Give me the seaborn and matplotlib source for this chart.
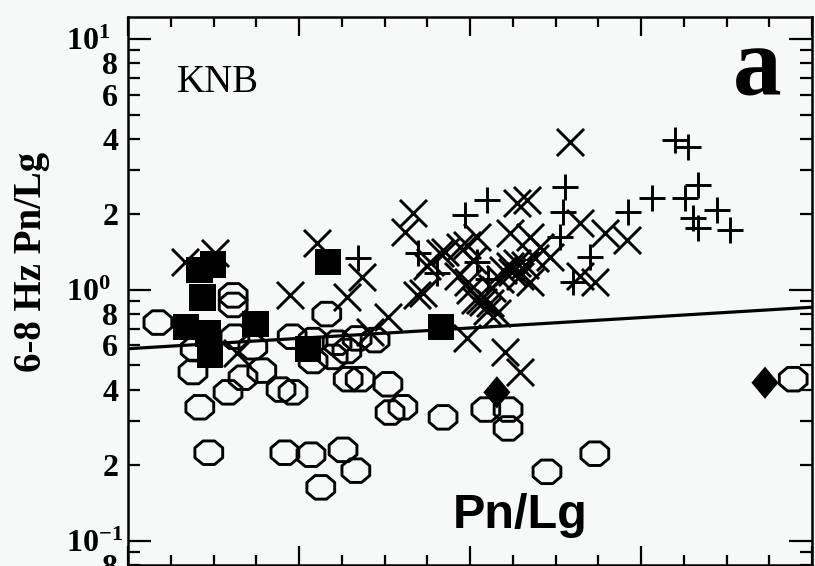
import numpy as np
import matplotlib
matplotlib.use("Agg")
import matplotlib.pyplot as plt
from matplotlib.path import Path
from matplotlib.ticker import LogLocator, FuncFormatter, MultipleLocator, NullFormatter
import seaborn as sns

# ---------------- data ----------------
oct_x = [0.70, 2.46, 2.46, 1.57, 1.52, 1.68, 1.89, 2.34, 2.69, 2.50, 2.92, 3.13, 3.58, 3.86,
         3.67, 4.28, 3.84, 4.33, 4.65, 4.33, 4.80, 5.12, 5.15, 5.43, 5.36, 5.78, 6.08, 6.13,
         6.43, 7.37, 5.03, 5.33, 4.51, 8.37, 8.89, 8.89, 9.80, 10.92, 15.56, 4.89]
oct_y = [0.74, 0.95, 0.87, 0.58, 0.47, 0.34, 0.224, 0.39, 0.446, 0.65, 0.59, 0.476, 0.40, 0.39,
         0.224, 0.22, 0.65, 0.63, 0.80, 0.52, 0.54, 0.57, 0.44, 0.44, 0.64, 0.63, 0.42, 0.324,
         0.34, 0.31, 0.23, 0.19, 0.163, 0.333, 0.333, 0.28, 0.188, 0.222, 0.44, 0.615]

sq_x = [1.68, 1.99, 1.75, 1.36, 1.87, 1.92, 2.99, 4.21, 4.68, 7.32]
sq_y = [1.20, 1.26, 0.93, 0.71, 0.67, 0.55, 0.73, 0.58, 1.29, 0.71]

cross_x = [1.33, 2.04, 4.42, 3.79, 2.55, 5.47, 5.12, 6.08, 6.76, 5.66,
           6.67, 6.48, 7.06, 7.42, 7.93, 8.16, 7.72, 7.95, 8.23, 8.40,
           7.93, 8.82, 9.17, 8.94, 9.10, 9.33, 10.34, 9.40, 10.57, 11.16,
           11.67, 7.30, 7.77, 8.07, 6.99, 6.90, 8.94, 9.17, 9.40, 8.00,
           8.30, 8.63, 10.57, 10.92, 9.87, 9.64, 8.77, 9.10, 8.47, 8.12,
           8.51, 8.70, 8.98, 9.29, 9.52]
cross_y = [1.29, 1.40, 1.54, 0.955, 0.56, 1.12, 0.94, 0.78, 0.955, 0.68,
           2.03, 1.70, 1.29, 1.42, 1.51, 1.63, 1.13, 1.07, 0.91, 0.82,
           0.644, 0.566, 0.47, 1.69, 2.22, 2.28, 3.89, 1.63, 1.85, 1.69,
           1.58, 1.40, 1.48, 1.32, 1.24, 0.973, 1.24, 1.13, 1.07, 1.00,
           0.896, 0.81, 1.13, 1.07, 1.35, 1.48, 1.20, 1.28, 0.888, 0.912,
           1.02, 1.10, 1.18, 1.26, 1.34]

plus_x = [5.38, 6.78, 7.23, 7.88, 8.40, 8.16, 10.22, 10.18, 10.11, 10.81, 10.41,
          11.70, 12.26, 12.80, 13.10, 13.33, 13.03, 13.22, 13.33, 13.78, 14.08, 8.42]
plus_y = [1.34, 1.40, 1.17, 1.99, 2.28, 1.29, 2.57, 2.05, 1.63, 1.35, 1.07,
          2.05, 2.33, 3.96, 3.71, 2.62, 2.33, 1.94, 1.77, 2.08, 1.73, 1.10]

dia_x = [8.63, 14.90]
dia_y = [0.39, 0.426]

fit_x = [0.0, 16.0]
fit_y = [0.582, 0.852]

y_label = "6-8 Hz Pn/Lg"
station = "KNB"
panel = "a"
phase = "Pn/Lg"

# ---------------- style ----------------
sns.set_style("ticks")
plt.rcParams.update({
    "font.family": ["Liberation Serif", "DejaVu Serif"],
    "font.weight": "bold",
    "text.color": "black",
    "axes.labelcolor": "black",
    "xtick.color": "black",
    "ytick.color": "black",
    "mathtext.fontset": "custom",
    "mathtext.rm": "Liberation Serif",
    "mathtext.bf": "Liberation Serif:bold",
    "mathtext.it": "Liberation Serif:italic",
})

bg = "#f7f8f8"
fig = plt.figure(figsize=(8.15, 5.66), dpi=100, facecolor=bg)
ax = fig.add_axes([128 / 815, 1 / 566, 684 / 815, 548 / 566])
ax.set_facecolor(bg)

# custom markers: slightly wide octagon, tall diamond
ang = np.deg2rad(22.5 + 45 * np.arange(8))
ov = np.column_stack([1.18 * np.cos(ang), np.sin(ang)])
oct_marker = Path(np.vstack([ov, ov[:1]]), closed=True)
dia_marker = Path([(0, 1), (0.84, 0), (0, -1), (-0.84, 0), (0, 1)], closed=True)

sns.lineplot(x=fit_x, y=fit_y, ax=ax, color="black", linewidth=2.3, zorder=2)
sns.scatterplot(x=oct_x, y=oct_y, ax=ax, marker=oct_marker, s=400, color="black",
                facecolor="none", edgecolor="black", linewidth=2.1, zorder=3)
sns.scatterplot(x=cross_x, y=cross_y, ax=ax, marker="x", s=380, color="black",
                linewidth=2.1, zorder=3)
sns.scatterplot(x=plus_x, y=plus_y, ax=ax, marker="+", s=340, color="black",
                linewidth=2.1, zorder=3)
sns.scatterplot(x=sq_x, y=sq_y, ax=ax, marker="s", s=370, color="black",
                edgecolor="none", linewidth=0, zorder=4)
sns.scatterplot(x=dia_x, y=dia_y, ax=ax, marker=dia_marker, s=540, color="black",
                edgecolor="none", linewidth=0, zorder=4)

ax.set_yscale("log")
ax.set_xlim(0, 16)
ax.set_ylim(0.0799, 12.24)
ax.set_xlabel("")

# ticks
ax.xaxis.set_major_locator(MultipleLocator(4))
ax.xaxis.set_minor_locator(MultipleLocator(1))
ax.xaxis.set_major_formatter(NullFormatter())
ax.xaxis.set_minor_formatter(NullFormatter())
ax.yaxis.set_major_locator(LogLocator(base=10, numticks=10))
ax.yaxis.set_minor_locator(LogLocator(base=10, subs=np.arange(2, 10), numticks=30))
ax.yaxis.set_major_formatter(FuncFormatter(
    lambda v, p: r"$\mathbf{10^{%d}}$" % int(round(np.log10(v)))))


def minor_fmt(v, p):
    m = int(round(v / 10 ** np.floor(np.log10(v) + 1e-9)))
    return str(m) if m in (2, 4, 6, 8) else ""


ax.yaxis.set_minor_formatter(FuncFormatter(minor_fmt))

ax.tick_params(axis="both", which="both", direction="in", top=True, right=True,
               width=1.6, color="black", labelcolor="black")
ax.tick_params(axis="y", which="major", length=16.5, pad=45, labelsize=23)
ax.tick_params(axis="y", which="minor", length=8.6, pad=7, labelsize=23)
ax.tick_params(axis="x", which="major", length=13.7, labelbottom=False)
ax.tick_params(axis="x", which="minor", length=7, labelbottom=False)

for sp in ax.spines.values():
    sp.set_linewidth(1.8)
    sp.set_color("black")

ax.set_ylabel(y_label, fontsize=28, fontweight="bold", color="black")
ax.yaxis.set_label_coords(-0.114, 0.553)

ax.text(0.132, 0.881, station, transform=ax.transAxes, ha="center", va="center",
        fontsize=28, fontweight="normal", color="black")
ax.text(0.9196, 0.858, panel, transform=ax.transAxes, ha="center", va="baseline",
        fontsize=70, fontweight="bold", color="black")
ax.text(0.573, 0.0675, phase, transform=ax.transAxes, ha="center", va="baseline",
        fontsize=35, fontweight="bold", color="black",
        family=["Liberation Sans", "DejaVu Sans"])

# decade labels are left-aligned in the reference
fig.canvas.draw()
for t in ax.yaxis.get_major_ticks():
    t.label1.set_horizontalalignment("left")

fig.savefig("out.png", dpi=100, facecolor=bg)
